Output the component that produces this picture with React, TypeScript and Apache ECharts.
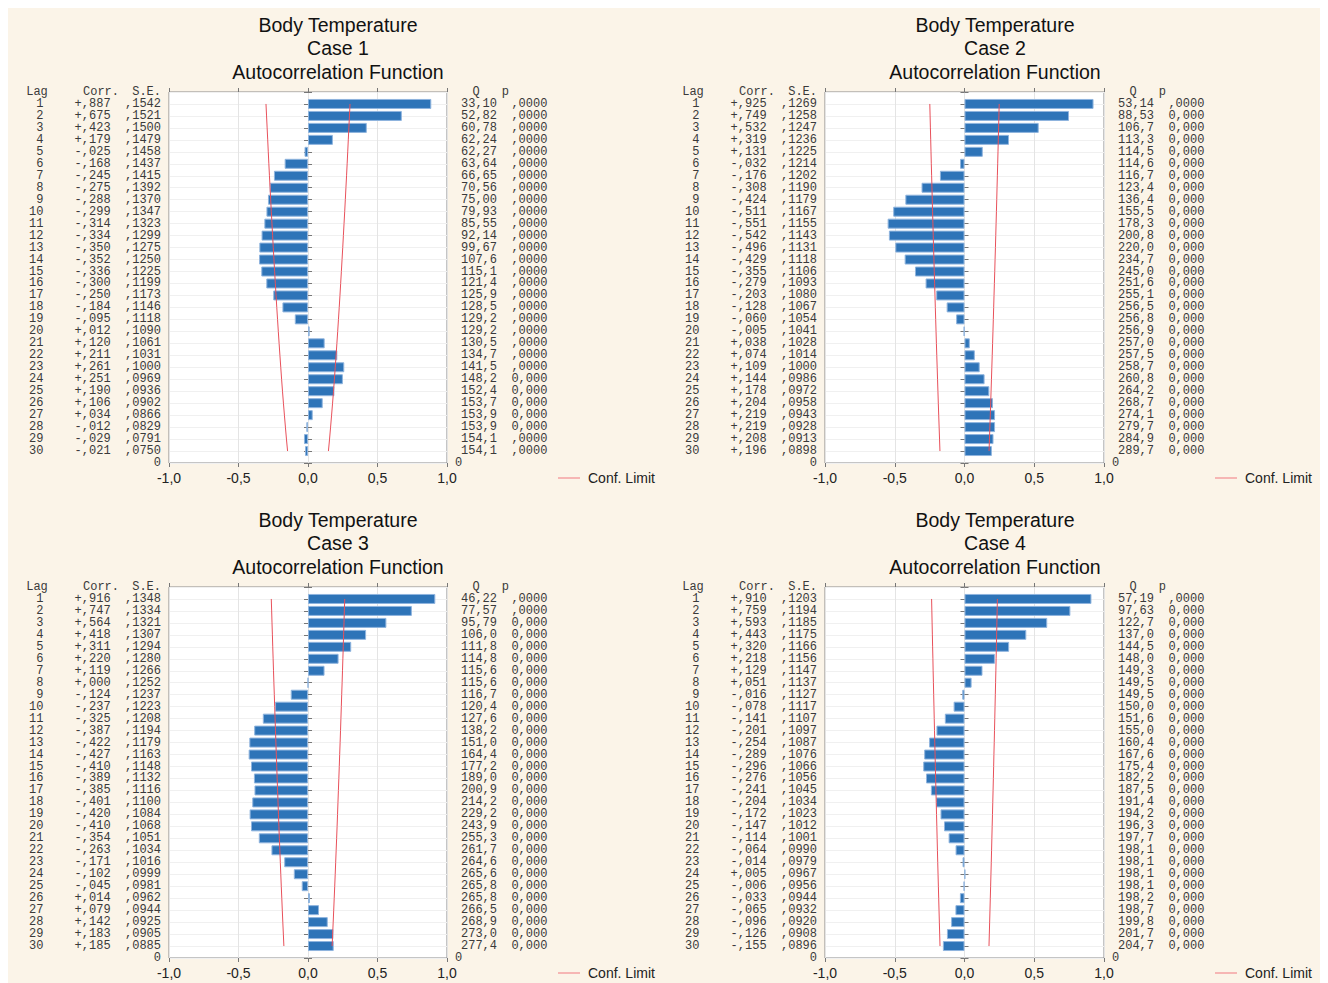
import React, { useEffect, useRef } from 'react';
import * as echarts from 'echarts';

// ---------- data ----------
const lags = [1, 2, 3, 4, 5, 6, 7, 8, 9, 10, 11, 12, 13, 14, 15, 16, 17, 18, 19, 20, 21, 22, 23, 24, 25, 26, 27, 28, 29, 30];
const caseNames = ['Case 1', 'Case 2', 'Case 3', 'Case 4'];
const chartTitle = 'Body Temperature';
const chartSubtitle = 'Autocorrelation Function';
const legendName = 'Conf. Limit';
const leftHeader = ['Lag', 'Corr.', 'S.E.'];
const rightHeader = ['Q', 'p'];
const Z = 1.96; // confidence limit = ±1.96·S.E.

const corr1 = [0.887, 0.675, 0.423, 0.179, -0.025, -0.168, -0.245, -0.275, -0.288, -0.299, -0.314, -0.334, -0.35, -0.352, -0.336, -0.3, -0.25, -0.184, -0.095, 0.012, 0.12, 0.211, 0.261, 0.251, 0.19, 0.106, 0.034, -0.012, -0.029, -0.021];
const se1 = [0.1542, 0.1521, 0.15, 0.1479, 0.1458, 0.1437, 0.1415, 0.1392, 0.137, 0.1347, 0.1323, 0.1299, 0.1275, 0.125, 0.1225, 0.1199, 0.1173, 0.1146, 0.1118, 0.109, 0.1061, 0.1031, 0.1, 0.0969, 0.0936, 0.0902, 0.0866, 0.0829, 0.0791, 0.075];
const q1 = [33.1, 52.82, 60.78, 62.24, 62.27, 63.64, 66.65, 70.56, 75.0, 79.93, 85.55, 92.14, 99.67, 107.6, 115.1, 121.4, 125.9, 128.5, 129.2, 129.2, 130.5, 134.7, 141.5, 148.2, 152.4, 153.7, 153.9, 153.9, 154.1, 154.1];
const p1 = ',0000 ,0000 ,0000 ,0000 ,0000 ,0000 ,0000 ,0000 ,0000 ,0000 ,0000 ,0000 ,0000 ,0000 ,0000 ,0000 ,0000 ,0000 ,0000 ,0000 ,0000 ,0000 ,0000 0,000 0,000 0,000 0,000 0,000 ,0000 ,0000'.split(' ');

const corr2 = [0.925, 0.749, 0.532, 0.319, 0.131, -0.032, -0.176, -0.308, -0.424, -0.511, -0.551, -0.542, -0.496, -0.429, -0.355, -0.279, -0.203, -0.128, -0.06, -0.005, 0.038, 0.074, 0.109, 0.144, 0.178, 0.204, 0.219, 0.219, 0.208, 0.196];
const se2 = [0.1269, 0.1258, 0.1247, 0.1236, 0.1225, 0.1214, 0.1202, 0.119, 0.1179, 0.1167, 0.1155, 0.1143, 0.1131, 0.1118, 0.1106, 0.1093, 0.108, 0.1067, 0.1054, 0.1041, 0.1028, 0.1014, 0.1, 0.0986, 0.0972, 0.0958, 0.0943, 0.0928, 0.0913, 0.0898];
const q2 = [53.14, 88.53, 106.7, 113.3, 114.5, 114.6, 116.7, 123.4, 136.4, 155.5, 178.3, 200.8, 220.0, 234.7, 245.0, 251.6, 255.1, 256.5, 256.8, 256.9, 257.0, 257.5, 258.7, 260.8, 264.2, 268.7, 274.1, 279.7, 284.9, 289.7];
const p2 = ',0000 0,000 0,000 0,000 0,000 0,000 0,000 0,000 0,000 0,000 0,000 0,000 0,000 0,000 0,000 0,000 0,000 0,000 0,000 0,000 0,000 0,000 0,000 0,000 0,000 0,000 0,000 0,000 0,000 0,000'.split(' ');

const corr3 = [0.916, 0.747, 0.564, 0.418, 0.311, 0.22, 0.119, 0.0, -0.124, -0.237, -0.325, -0.387, -0.422, -0.427, -0.41, -0.389, -0.385, -0.401, -0.42, -0.41, -0.354, -0.263, -0.171, -0.102, -0.045, 0.014, 0.079, 0.142, 0.183, 0.185];
const se3 = [0.1348, 0.1334, 0.1321, 0.1307, 0.1294, 0.128, 0.1266, 0.1252, 0.1237, 0.1223, 0.1208, 0.1194, 0.1179, 0.1163, 0.1148, 0.1132, 0.1116, 0.11, 0.1084, 0.1068, 0.1051, 0.1034, 0.1016, 0.0999, 0.0981, 0.0962, 0.0944, 0.0925, 0.0905, 0.0885];
const q3 = [46.22, 77.57, 95.79, 106.0, 111.8, 114.8, 115.6, 115.6, 116.7, 120.4, 127.6, 138.2, 151.0, 164.4, 177.2, 189.0, 200.9, 214.2, 229.2, 243.9, 255.3, 261.7, 264.6, 265.6, 265.8, 265.8, 266.5, 268.9, 273.0, 277.4];
const p3 = ',0000 ,0000 0,000 0,000 0,000 0,000 0,000 0,000 0,000 0,000 0,000 0,000 0,000 0,000 0,000 0,000 0,000 0,000 0,000 0,000 0,000 0,000 0,000 0,000 0,000 0,000 0,000 0,000 0,000 0,000'.split(' ');

const corr4 = [0.91, 0.759, 0.593, 0.443, 0.32, 0.218, 0.129, 0.051, -0.016, -0.078, -0.141, -0.201, -0.254, -0.289, -0.296, -0.276, -0.241, -0.204, -0.172, -0.147, -0.114, -0.064, -0.014, 0.005, -0.006, -0.033, -0.065, -0.096, -0.126, -0.155];
const se4 = [0.1203, 0.1194, 0.1185, 0.1175, 0.1166, 0.1156, 0.1147, 0.1137, 0.1127, 0.1117, 0.1107, 0.1097, 0.1087, 0.1076, 0.1066, 0.1056, 0.1045, 0.1034, 0.1023, 0.1012, 0.1001, 0.099, 0.0979, 0.0967, 0.0956, 0.0944, 0.0932, 0.092, 0.0908, 0.0896];
const q4 = [57.19, 97.63, 122.7, 137.0, 144.5, 148.0, 149.3, 149.5, 149.5, 150.0, 151.6, 155.0, 160.4, 167.6, 175.4, 182.2, 187.5, 191.4, 194.2, 196.3, 197.7, 198.1, 198.1, 198.1, 198.1, 198.2, 198.7, 199.8, 201.7, 204.7];
const p4 = ',0000 0,000 0,000 0,000 0,000 0,000 0,000 0,000 0,000 0,000 0,000 0,000 0,000 0,000 0,000 0,000 0,000 0,000 0,000 0,000 0,000 0,000 0,000 0,000 0,000 0,000 0,000 0,000 0,000 0,000'.split(' ');

const cases = [
  { corr: corr1, se: se1, q: q1, p: p1 },
  { corr: corr2, se: se2, q: q2, p: p2 },
  { corr: corr3, se: se3, q: q3, p: p3 },
  { corr: corr4, se: se4, q: q4, p: p4 },
];

// ---------- layout ----------
const grids = [
  { left: 161, top: 84, width: 278, height: 371 },
  { left: 817, top: 84, width: 279, height: 371 },
  { left: 161, top: 579, width: 278, height: 371 },
  { left: 817, top: 579, width: 279, height: 371 },
];
const titlePos = [[330, 5], [987, 5], [330, 500], [987, 500]];
const legendPos = [[550, 463], [1207, 463], [550, 958], [1207, 958]];

const fmtCorr = (v: number) => (v >= 0 ? '+' : '-') + ',' + String(Math.round(Math.abs(v) * 1000)).padStart(3, '0');
const fmtSE = (v: number) => ',' + String(Math.round(v * 10000)).padStart(4, '0');
const fmtQ = (v: number) => (v < 100 ? v.toFixed(2) : v.toFixed(1)).replace('.', ',');
const fmtX = (v: number) => v.toFixed(1).replace('.', ',');

const MONO = '"Liberation Mono", "DejaVu Sans Mono", monospace';
const SANS = '"Liberation Sans", Arial, sans-serif';
const RED = '#E8505A';
const TXT = '#3A3A3A';
const FS = 12;

const cell = (width: number, align: string) => ({ width, align, fontFamily: MONO, fontSize: FS, lineHeight: 12, color: TXT });
const leftRich = {
  a: cell(16.8, 'right'), b: cell(67.2, 'right'), c: cell(50.4, 'right'),
  h1: cell(25.2, 'left'), h2: cell(67.6, 'right'), h3: cell(42, 'right'),
};
const rightRich = {
  q: cell(42, 'right'), p: cell(50.4, 'right'),
  hq: cell(42, 'center'), hp: cell(16.8, 'center'), z: cell(10, 'left'),
};

function buildOption() {
  const cats = ['hdr', ...lags.map(String), 'end'];
  const xAxis: any[] = [];
  const yAxis: any[] = [];
  const series: any[] = [];
  const title: any[] = [];
  const legend: any[] = [];

  cases.forEach((c, gi) => {
    xAxis.push({
      type: 'value', gridIndex: gi, position: 'bottom', min: -1, max: 1, interval: 0.5,
      axisLine: { show: false },
      axisTick: { show: true, inside: false, length: 4, lineStyle: { color: '#777' } },
      axisLabel: { formatter: (v: number) => fmtX(v), fontFamily: SANS, fontSize: 14, color: '#222', margin: 8 },
      splitLine: { show: true, lineStyle: { color: '#E4E4E4', width: 1 } },
    });
    xAxis.push({
      type: 'value', gridIndex: gi, position: 'top', min: -1, max: 1, interval: 0.5,
      axisLine: { show: false },
      axisTick: { show: true, inside: false, length: 4, lineStyle: { color: '#777' } },
      axisLabel: { show: false },
      splitLine: { show: false },
    });
    yAxis.push({
      type: 'category', gridIndex: gi, position: 'left', inverse: true, boundaryGap: false, data: cats,
      axisLine: { show: false },
      axisTick: { show: true, inside: false, length: 4, interval: 0, lineStyle: { color: '#777' } },
      splitLine: { show: true, interval: 0, lineStyle: { color: '#F0F0F0', width: 1 } },
      axisLabel: {
        interval: 0, margin: 8, fontFamily: MONO, fontSize: FS, lineHeight: 12, color: TXT, rich: leftRich,
        formatter: (_v: string, i: number) => {
          if (i === 0) return `{h1|${leftHeader[0]}}{h2|${leftHeader[1]}}{h3|${leftHeader[2]}}`;
          if (i === lags.length + 1) return '{c|0}';
          const k = i - 1;
          return `{a|${lags[k]}}{b|${fmtCorr(c.corr[k])}}{c|${fmtSE(c.se[k])}}`;
        },
      },
    });
    yAxis.push({
      type: 'category', gridIndex: gi, position: 'right', inverse: true, boundaryGap: false, data: cats,
      axisLine: { show: false },
      axisTick: { show: true, inside: false, length: 4, interval: 0, lineStyle: { color: '#777' } },
      splitLine: { show: false },
      axisLabel: {
        interval: 0, margin: 8, fontFamily: MONO, fontSize: FS, lineHeight: 12, color: TXT, rich: rightRich,
        formatter: (_v: string, i: number) => {
          if (i === 0) return `{hq|${rightHeader[0]}}{hp|${rightHeader[1]}}`;
          if (i === lags.length + 1) return '{z|0}';
          const k = i - 1;
          return `{q|${fmtQ(c.q[k])}}{p|${c.p[k]}}`;
        },
      },
    });
    series.push({
      type: 'bar', name: caseNames[gi], xAxisIndex: gi * 2, yAxisIndex: gi * 2,
      data: c.corr.map((v, k) => [v, k + 1]),
      barWidth: 10,
      itemStyle: { color: '#2E74B8', borderColor: '#8FB4DE', borderWidth: 1 },
      z: 2,
    });
    series.push({
      type: 'line', name: legendName, xAxisIndex: gi * 2, yAxisIndex: gi * 2,
      data: c.se.map((s, k) => [-Z * s, k + 1]),
      symbol: 'none', lineStyle: { color: RED, width: 1 }, itemStyle: { color: RED }, z: 3,
    });
    series.push({
      type: 'line', name: legendName, xAxisIndex: gi * 2, yAxisIndex: gi * 2,
      data: c.se.map((s, k) => [Z * s, k + 1]),
      symbol: 'none', lineStyle: { color: RED, width: 1 }, itemStyle: { color: RED }, z: 3,
    });
    title.push({
      text: chartTitle + '\n' + caseNames[gi] + '\n' + chartSubtitle,
      left: titlePos[gi][0], top: titlePos[gi][1], textAlign: 'center', padding: 0,
      textStyle: { fontFamily: SANS, fontSize: 19.5, fontWeight: 'normal', color: '#111', lineHeight: 23.5 },
    });
    legend.push({
      data: [{ name: legendName, icon: 'rect', itemStyle: { color: '#F07880' } }],
      left: legendPos[gi][0], top: legendPos[gi][1], padding: 0,
      itemWidth: 22, itemHeight: 1, itemGap: 6,
      textStyle: { fontFamily: SANS, fontSize: 14, color: '#222', padding: [0, 0, 0, 3] },
      selectedMode: false,
    });
  });

  return {
    animation: false,
    backgroundColor: '#FBF4E8',
    title,
    legend,
    grid: grids.map((g) => ({ ...g, show: true, backgroundColor: '#FFFFFF', borderColor: '#8A8A8A', borderWidth: 1, containLabel: false })),
    xAxis,
    yAxis,
    series,
  };
}

export default function App() {
  const ref = useRef<HTMLDivElement>(null);
  useEffect(() => {
    if (!ref.current) return;
    const chart = echarts.init(ref.current, null, { renderer: 'svg' });
    chart.setOption(buildOption() as any);
    return () => chart.dispose();
  }, []);
  return <div ref={ref} style={{ width: 1312, height: 975 }} />;
}
